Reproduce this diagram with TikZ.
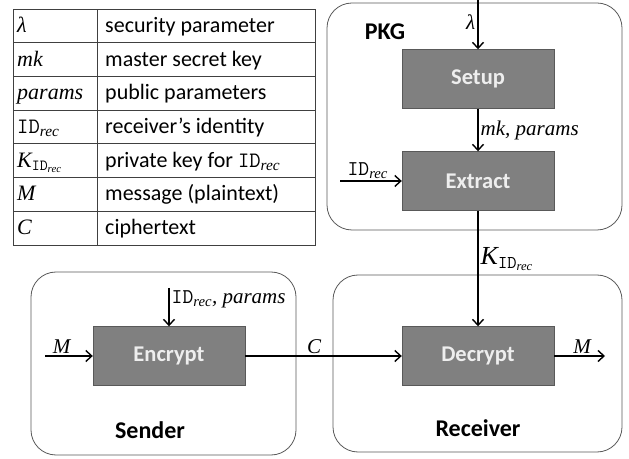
\documentclass[tikz,border=0pt]{standalone}
\usepackage{fontspec}
\setmainfont{Liberation Serif}
\newfontfamily\calibri{Carlito}
\usetikzlibrary{arrows.meta,positioning}
\definecolor{boxgray}{RGB}{128,128,128}
\definecolor{boxtext}{RGB}{238,238,238}
\newcommand{\IDrec}{\texttt{\upshape ID}\textsubscript{\itshape rec}}
\tikzstyle{block}    = [rectangle, draw=black!65, fill=boxgray, text=boxtext, font=\calibri\bfseries\fontsize{22.5}{24}\selectfont, minimum width=152pt, minimum height=59pt, inner sep=0pt]
\tikzstyle{party}    = [draw=black!65, line width=0.8pt, rounded corners=25pt]
\tikzstyle{title}    = [font=\calibri\bfseries\fontsize{24}{26}\selectfont]
\tikzstyle{line}     = [draw, -{Straight Barb[length=6pt, width=11pt, line width=1.4pt]}, line width=1.4pt]
\tikzstyle{lbl}      = [font=\fontsize{21}{23}\selectfont\itshape, inner sep=2pt]
\tikzstyle{sym}      = [anchor=base west, font=\fontsize{22}{24}\selectfont\itshape, inner sep=0pt]
\tikzstyle{txt}      = [anchor=base west, font=\calibri\fontsize{22}{24}\selectfont, inner sep=0pt]
\begin{document}
\begin{tikzpicture}[x=1pt, y=1pt]
	\useasboundingbox (0,0) rectangle (629,458);

	% Table %

	\draw [black!75, line width=0.8pt] (13,213) rectangle (315,449);
	\draw [black!75, line width=0.8pt] (97,213) -- (97,449);
	\foreach \y in {1,...,6}
		\draw [black!75, line width=0.8pt] (13,449-33.71*\y) -- (315,449-33.71*\y);
	%=========================================%
	\node [sym] (s1) at (17,425.5) {λ};
	\node [txt] (t1) at (105,425.5) {security parameter};
	\node [sym] (s2) at (17,391.8) {mk};
	\node [txt] (t2) at (105,391.8) {master secret key};
	\node [sym] (s3) at (17,358.1) {params};
	\node [txt] (t3) at (105,358.1) {public parameters};
	\node [sym] (s4) at (17,324.4) {\IDrec};
	\node [txt] (t4) at (105,324.4) {receiver’s identity};
	\node [sym] (s5) at (17,290.7) {K\textsubscript{\IDrec}};
	\node [txt] (t5) at (105,290.7) {private key for {\rmfamily\IDrec}};
	\node [sym] (s6) at (17,257.0) {M};
	\node [txt] (t6) at (105,257.0) {message (plaintext)};
	\node [sym] (s7) at (17,223.3) {C};
	\node [txt] (t7) at (105,223.3) {ciphertext};

	% PKG %

	\draw [party] (327,228) rectangle (622,455);
	\node [title] (pkg) at (385,426) {PKG};
	\node [block] (setup) at (478,379) {Setup};
	\node [block] (extract) at (478,277) {Extract};
	\coordinate (lamin) at (478,458);
	\coordinate (idin) at (340,277);

	% Sender %

	\draw [party] (31,3) rectangle (296,186);
	\node [title] (sender) at (150,28) {Sender};
	\node [block] (encrypt) at (169,102) {Encrypt};
	\coordinate (min) at (45,102);
	\coordinate (keyin) at (169,170);

	% Receiver %

	\draw [party] (333,6) rectangle (622,183);
	\node [title] (receiver) at (478,30) {Receiver};
	\node [block] (decrypt) at (478,102) {Decrypt};
	\coordinate (mout) at (605,102);

	% Connection %

	\path [line] (lamin) -- node [lbl, left, pos=0.45] {λ} (setup);
	\path [line] (setup) -- node [lbl, right] {mk, params} (extract);
	\path [line] (idin) -- node [lbl, above, pos=0.45] {\IDrec} (extract);
	\path [line] (extract) -- node [lbl, right, pos=0.42, font=\fontsize{26}{28}\selectfont\itshape] {K\textsubscript{\fontsize{18}{20}\selectfont\IDrec}} (decrypt);
	\path [line] (keyin) -- node [lbl, right, pos=0.3] {\IDrec, params} (encrypt);
	\path [line] (min) -- node [lbl, above, pos=0.35] {M} (encrypt);
	\path [line] (encrypt) -- node [lbl, above, pos=0.44] {C} (decrypt);
	\path [line] (decrypt) -- node [lbl, above, pos=0.55] {M} (mout);
\end{tikzpicture}
\end{document}
